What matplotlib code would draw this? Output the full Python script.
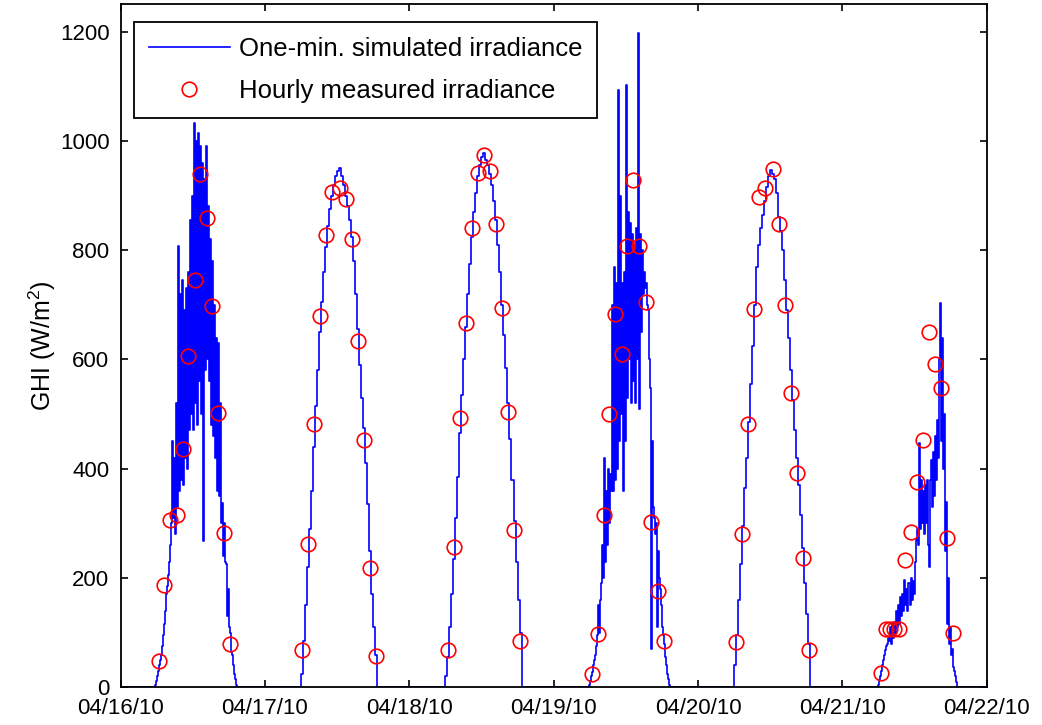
import matplotlib
matplotlib.use('Agg')
import matplotlib.pyplot as plt

plt.rcParams['font.family'] = ['Liberation Sans', 'DejaVu Sans']
plt.rcParams['mathtext.default'] = 'regular'

# ---------------- data ----------------
date_labels = ['04/16/10', '04/17/10', '04/18/10', '04/19/10',
               '04/20/10', '04/21/10', '04/22/10']
y_ticks = [0, 200, 400, 600, 800, 1000, 1200]

# one-minute simulated irradiance:
# per day: first hour of the list, spacing in minutes, values in W/m2
sim_d1_start, sim_d1_step = 5.5, 10
sim_d1 = [0, 5, 12, 20, 30, 40, 50, 60, 75, 95, 115, 140, 170, 185, 205, 230, 260,
          300, 450, 310, 420, 280, 520, 330, 807, 360, 720, 380, 745, 370, 690, 420,
          730, 400, 760, 470, 855, 500, 900, 470, 1033, 520, 1000, 480, 1014, 560,
          990, 500, 960, 267, 930, 580, 990, 600, 880, 560, 820, 480, 780, 460, 700,
          420, 640, 360, 630, 350, 520, 300, 337, 240, 300, 230, 225, 130, 180, 110,
          100, 65, 60, 40, 25, 15, 5, 0]

sim_d2_start, sim_d2_step = 5.667, 20
sim_d2 = [0, 25, 85, 150, 220, 290, 360, 440, 515, 580, 650, 705, 760, 805, 845,
          875, 900, 920, 935, 945, 950, 935, 920, 900, 880, 855, 825, 780, 720, 655,
          590, 530, 475, 410, 335, 250, 170, 110, 60, 0]

sim_d3_start, sim_d3_step = 5.667, 20
sim_d3 = [0, 20, 55, 110, 170, 235, 310, 385, 465, 535, 600, 660, 720, 775, 825,
          870, 905, 935, 955, 970, 978, 965, 955, 940, 920, 890, 855, 810, 760, 700,
          645, 585, 520, 455, 380, 305, 230, 160, 100, 0]

sim_d4_start, sim_d4_step = 5.667, 10
sim_d4 = [0, 5, 12, 20, 28, 40, 50, 60, 75, 95, 150, 100, 160, 190, 260, 200, 420,
          230, 360, 260, 400, 300, 390, 360, 700, 360, 770, 380, 740, 400, 1094, 450,
          900, 500, 740, 360, 760, 450, 1102, 530, 870, 600, 850, 520, 830, 560, 800,
          520, 840, 600, 1197, 510, 830, 650, 800, 720, 760, 730, 740, 700, 690, 600,
          547, 71, 450, 330, 310, 280, 300, 111, 250, 200, 180, 150, 110, 95, 80, 55,
          40, 25, 15, 5, 0]

sim_d5_start, sim_d5_step = 5.667, 20
sim_d5 = [0, 40, 95, 160, 225, 295, 365, 420, 485, 555, 625, 700, 770, 810, 840,
          865, 890, 915, 935, 946, 940, 930, 905, 860, 835, 800, 745, 690, 640, 580,
          525, 470, 420, 370, 315, 255, 190, 135, 80, 0]

sim_d6_start, sim_d6_step = 5.833, 10
sim_d6 = [0, 5, 13, 20, 30, 40, 50, 60, 68, 75, 80, 90, 85, 110, 80, 117, 90, 120,
          100, 140, 110, 150, 115, 166, 130, 170, 140, 196, 150, 180, 140, 190, 150,
          200, 160, 195, 170, 230, 270, 290, 260, 447, 290, 380, 300, 360, 280, 370,
          300, 380, 260, 221, 380, 416, 330, 430, 350, 460, 380, 489, 420, 600, 703,
          450, 640, 400, 500, 250, 340, 115, 200, 80, 110, 60, 70, 38, 30, 20, 10, 0]

# hourly measured irradiance: hour of day and GHI per day
meas_d1_hour = [6.40, 7.28, 8.23, 9.34, 10.34, 11.27, 12.38, 13.22, 14.33, 15.21, 16.26, 17.26, 18.20]
meas_d1_ghi = [49, 187, 307, 315, 437, 607, 745, 939, 858, 697, 502, 283, 79]
meas_d2_hour = [6.22, 7.21, 8.16, 9.16, 10.16, 11.15, 12.48, 13.53, 14.43, 15.43, 16.47, 17.47, 18.47]
meas_d2_ghi = [68, 262, 481, 679, 828, 906, 913, 894, 821, 634, 452, 218, 57]
meas_d3_hour = [6.45, 7.45, 8.45, 9.39, 10.44, 11.39, 12.39, 13.43, 14.43, 15.38, 16.43, 17.43, 18.43]
meas_d3_ghi = [69, 257, 492, 667, 840, 941, 975, 945, 847, 694, 504, 287, 85]
meas_d4_hour = [6.33, 7.43, 8.33, 9.26, 10.26, 11.32, 12.25, 13.25, 14.25, 15.37, 16.25, 17.32, 18.32]
meas_d4_ghi = [24, 97, 315, 501, 683, 610, 807, 928, 807, 705, 303, 176, 85]
meas_d5_hour = [6.27, 7.26, 8.31, 9.26, 10.19, 11.19, 12.52, 13.52, 14.52, 15.52, 16.52, 17.51, 18.50]
meas_d5_ghi = [82, 280, 481, 693, 897, 913, 949, 847, 700, 539, 393, 236, 68]
meas_d6_hour = [6.37, 7.20, 7.91, 8.63, 9.46, 10.40, 11.35, 12.44, 13.34, 14.39, 15.39, 16.34, 17.34, 18.43]
meas_d6_ghi = [26, 106, 106, 106, 106, 233, 284, 376, 453, 650, 591, 547, 274, 99]

# ---------------- assemble series ----------------
sim_days = [(sim_d1_start, sim_d1_step, sim_d1), (sim_d2_start, sim_d2_step, sim_d2),
            (sim_d3_start, sim_d3_step, sim_d3), (sim_d4_start, sim_d4_step, sim_d4),
            (sim_d5_start, sim_d5_step, sim_d5), (sim_d6_start, sim_d6_step, sim_d6)]
sim_t, sim_v = [0.0], [0.0]
for d, (start, step, vals) in enumerate(sim_days):
    for i, val in enumerate(vals):
        sim_t.append(d + (start + i * step / 60.0) / 24.0)
        sim_v.append(val)
sim_t.append(6.0)
sim_v.append(0.0)

meas_days = [(meas_d1_hour, meas_d1_ghi), (meas_d2_hour, meas_d2_ghi),
             (meas_d3_hour, meas_d3_ghi), (meas_d4_hour, meas_d4_ghi),
             (meas_d5_hour, meas_d5_ghi), (meas_d6_hour, meas_d6_ghi)]
meas_t, meas_v = [], []
for d, (hours, vals) in enumerate(meas_days):
    for h, val in zip(hours, vals):
        meas_t.append(d + h / 24.0)
        meas_v.append(val)

# ---------------- plot ----------------
W, H = 1042, 725
fig = plt.figure(figsize=(W / 100, H / 100), dpi=100)
ax = fig.add_axes([120.5 / W, (H - 687.3) / H, 866.2 / W, 683 / H])

ax.plot(sim_t, sim_v, color='#0000ff', lw=1.2, drawstyle='steps-post',
        label='One-min. simulated irradiance')
ax.plot(meas_t, meas_v, ls='none', marker='o', ms=10.5, mfc='none', mec='#ff0000',
        mew=1.2, label='Hourly measured irradiance')

ax.set_xlim(0, 6)
ax.set_ylim(0, 1250)
ax.set_xticks(range(len(date_labels)))
ax.set_xticklabels(date_labels)
ax.set_yticks(y_ticks)
ax.tick_params(direction='in', length=5, width=1.2, top=True, right=True,
               labelsize=16, colors='black')
ax.tick_params(axis='y', pad=8)
ax.tick_params(axis='x', pad=8)
for s in ax.spines.values():
    s.set_linewidth(1.3)
ax.set_ylabel('GHI (W/m$^2$)', fontsize=18, labelpad=1.5)

leg = ax.legend(loc='upper left', bbox_to_anchor=(0.0156, 0.974), borderaxespad=0,
                fontsize=18.5, numpoints=1, handlelength=3.15, handletextpad=0.35,
                borderpad=0.58, labelspacing=0.72, fancybox=False, framealpha=1,
                edgecolor='black')
leg.get_frame().set_linewidth(1.3)

fig.savefig('out.png', dpi=100)
